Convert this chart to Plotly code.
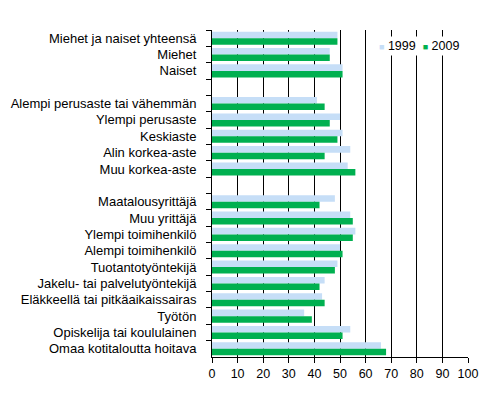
import plotly.graph_objects as go

categories = [
    "Miehet ja naiset yhteensä", "Miehet", "Naiset", " ",
    "Alempi perusaste tai vähemmän", "Ylempi perusaste", "Keskiaste",
    "Alin korkea-aste", "Muu korkea-aste", "  ",
    "Maatalousyrittäjä", "Muu yrittäjä", "Ylempi toimihenkilö",
    "Alempi toimihenkilö", "Tuotantotyöntekijä",
    "Jakelu- tai palvelutyöntekijä", "Eläkkeellä tai pitkäaikaissairas",
    "Työtön", "Opiskelija tai koululainen", "Omaa kotitaloutta hoitava",
]
values_1999 = [49, 46, 51, None, 41, 50, 51, 54, 53, None,
               48, 54, 56, 50, 49, 44, 43, 36, 54, 66]
values_2009 = [49, 46, 51, None, 44, 46, 49, 44, 56, None,
               42, 55, 55, 51, 48, 42, 44, 39, 51, 68]

c1999 = "#C6DEF7"
c2009 = "#00B050"

fig = go.Figure()
fig.add_trace(go.Bar(y=categories, x=values_1999, name="1999", orientation="h",
                     marker=dict(color=c1999, line_width=0)))
fig.add_trace(go.Bar(y=categories, x=values_2009, name="2009", orientation="h",
                     marker=dict(color=c2009, line_width=0)))

# compact legend like the original (small squares right next to the text)
sq = "<span style='color:%s;font-size:9px'>■</span>"
fig.add_annotation(
    xref="paper", yref="paper", x=0.64, y=0.951, xanchor="left", yanchor="middle",
    showarrow=False, font=dict(size=12.5),
    text=(sq % c1999) + " 1999  " + (sq % c2009) + " 2009",
    bgcolor="white", borderpad=2,
)

# page body has an 8px margin, so the figure is a bit smaller than the window
fig.update_layout(
    width=481, height=410,
    margin=dict(l=204, r=21, t=22, b=61),
    paper_bgcolor="white", plot_bgcolor="white",
    font=dict(family="Liberation Sans, Arial, sans-serif", size=13, color="black"),
    barmode="group", bargap=0.2, bargroupgap=0,
    showlegend=False,
)
fig.update_xaxes(range=[0, 100], dtick=10, showgrid=True, gridcolor="black",
                 gridwidth=1, showline=True, linecolor="black", linewidth=1,
                 ticks="outside", ticklen=5, tickcolor="black", zeroline=False,
                 tickangle=0, tickfont=dict(size=12.5), automargin=False)
fig.update_yaxes(type="category", autorange="reversed", showgrid=False,
                 showline=True, linecolor="black", linewidth=1,
                 ticks="outside", ticklen=5, tickcolor="black",
                 tickson="boundaries", ticklabelstandoff=12, automargin=False)

fig.write_html("out.html")
